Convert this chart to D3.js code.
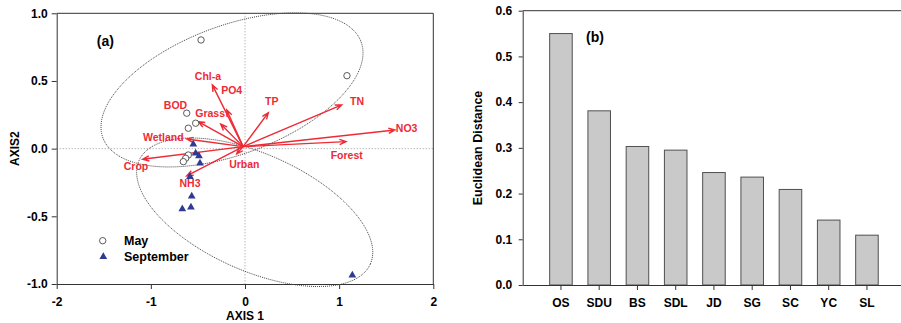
<!DOCTYPE html>
<html>
<head>
<meta charset="utf-8">
<script src="https://cdn.jsdelivr.net/npm/d3@7"></script>
<style>
  body { margin: 0; background: #fff; }
  svg { display: block; font-family: "Liberation Sans", Arial, sans-serif; }
  .axis text { font-size: 12px; font-weight: bold; fill: #000; }
  .axis path, .axis line { stroke: #333; }
</style>
</head>
<body>
<svg id="chart" width="901" height="323"></svg>
<script>
// panel (a): site scores
const mayX = [-0.467, 1.083, -0.619, -0.524, -0.602, -0.602, -0.630, -0.655];
const mayY = [0.803, 0.539, 0.262, 0.188, 0.151, -0.047, -0.071, -0.096];
const sepX = [-0.549, -0.524, -0.489, -0.478, -0.584, -0.566, -0.574, -0.666, 1.140];
const sepY = [0.033, -0.034, -0.054, -0.108, -0.207, -0.352, -0.433, -0.446, -0.935];

// environmental vectors (tips) and where their names sit
const vecNames = ["NO3", "TN", "Forest", "TP", "Chl-a", "PO4", "BOD", "Grass", "Wetland", "Crop", "NH3", "Urban"];
const vecX = [1.593, 1.027, 1.073, 0.248, -0.347, -0.194, -0.496, -0.258, -0.619, -1.087, -0.619, -0.088];
const vecY = [0.138, 0.323, 0.052, 0.266, 0.471, 0.286, 0.200, 0.182, 0.071, -0.078, -0.202, -0.039];
const labX = [1.717, 1.190, 1.080, 0.284, -0.393, -0.141, -0.738, -0.370, -0.868, -1.158, -0.584, -0.007];
const labY = [0.153, 0.352, -0.047, 0.352, 0.537, 0.434, 0.321, 0.262, 0.084, -0.133, -0.256, -0.113];
const vecOrigin = [-0.02, 0.015];

// group ellipses: centre + two conjugate semi-axes (data units)
const ellCx = [-0.138, 0.103];
const ellCy = [0.434, -0.470];
const ellUx = [1.371, 1.228];
const ellUy = [0.355, -0.383];
const ellVx = [0.238, -0.254];
const ellVy = [-0.445, -0.393];

const axis1Ticks = [-2, -1, 0, 1, 2];
const axis2Ticks = [-1, -0.5, 0, 0.5, 1];

// panel (b)
const sites = ["OS", "SDU", "BS", "SDL", "JD", "SG", "SC", "YC", "SL"];
const distance = [0.550, 0.381, 0.303, 0.295, 0.246, 0.236, 0.209, 0.142, 0.109];
const distTicks = [0, 0.1, 0.2, 0.3, 0.4, 0.5, 0.6];

const red = "#ee2a35";
const svg = d3.select("#chart");

// ---------- panel (a) ----------
const x = d3.scaleLinear().domain([-2, 2]).range([56.7, 433.3]);
const y = d3.scaleLinear().domain([-1, 1]).range([284, 13.3]);

const ga = svg.append("g");

// zero lines
ga.append("line")
  .attr("x1", x(0)).attr("x2", x(0)).attr("y1", y(1)).attr("y2", y(-1))
  .attr("stroke", "#999").attr("stroke-dasharray", "1,2");
ga.append("line")
  .attr("x1", x(-2)).attr("x2", x(2)).attr("y1", y(0)).attr("y2", y(0))
  .attr("stroke", "#999").attr("stroke-dasharray", "1,2");

// frame top/right
ga.append("path")
  .attr("d", `M${x(-2)},${y(1)}H${x(2)}V${y(-1)}`)
  .attr("fill", "none").attr("stroke", "#333");

ga.append("g").attr("class", "axis")
  .attr("transform", `translate(0,${y(-1)})`)
  .call(d3.axisBottom(x).tickValues(axis1Ticks).tickSize(5).tickSizeOuter(0).tickPadding(8).tickFormat(d => String(d)));

ga.append("g").attr("class", "axis")
  .attr("transform", `translate(${x(-2)},0)`)
  .call(d3.axisLeft(y).tickValues(axis2Ticks).tickSize(5).tickSizeOuter(0).tickPadding(4).tickFormat(d => d.toFixed(1)));

// ellipses
const ellLine = d3.line().x(p => x(p[0])).y(p => y(p[1])).curve(d3.curveLinearClosed);
ellCx.forEach((cx, i) => {
  const pts = d3.range(0, 360, 2).map(a => {
    const t = a * Math.PI / 180;
    return [cx + ellUx[i] * Math.cos(t) + ellVx[i] * Math.sin(t),
            ellCy[i] + ellUy[i] * Math.cos(t) + ellVy[i] * Math.sin(t)];
  });
  ga.append("path").attr("d", ellLine(pts))
    .attr("fill", "none").attr("stroke", "#444").attr("stroke-width", 1)
    .attr("stroke-dasharray", "1,1");
});

// vectors
const ox = x(vecOrigin[0]), oy = y(vecOrigin[1]);
vecNames.forEach((name, i) => {
  const tx = x(vecX[i]), ty = y(vecY[i]);
  const ang = Math.atan2(ty - oy, tx - ox);
  const hl = 7, ha = 0.38;
  const p1 = [tx - hl * Math.cos(ang - ha), ty - hl * Math.sin(ang - ha)];
  const p2 = [tx - hl * Math.cos(ang + ha), ty - hl * Math.sin(ang + ha)];
  ga.append("path")
    .attr("d", `M${ox},${oy}L${tx},${ty}M${p1}L${tx},${ty}L${p2}`)
    .attr("fill", "none").attr("stroke", red).attr("stroke-width", 1.4);
  ga.append("text")
    .attr("x", x(labX[i])).attr("y", y(labY[i])).attr("dy", "0.35em")
    .attr("text-anchor", "middle")
    .attr("font-size", 10.5).attr("font-weight", "bold").attr("fill", red)
    .text(name);
});

// points
ga.selectAll("circle.may").data(mayX).enter().append("circle")
  .attr("cx", d => x(d)).attr("cy", (d, i) => y(mayY[i])).attr("r", 3.2)
  .attr("fill", "#fff").attr("stroke", "#333").attr("stroke-width", 0.8);

const tri = d3.symbol(d3.symbolTriangle, 26);
ga.selectAll("path.sep").data(sepX).enter().append("path")
  .attr("d", tri)
  .attr("transform", (d, i) => `translate(${x(d)},${y(sepY[i])})`)
  .attr("fill", "#2e3a94");

// legend
ga.append("circle").attr("cx", 102.7).attr("cy", 240.7).attr("r", 3.2)
  .attr("fill", "#fff").attr("stroke", "#333").attr("stroke-width", 0.8);
ga.append("path").attr("d", tri).attr("transform", "translate(103.3,256.7)").attr("fill", "#2e3a94");
ga.append("text").attr("x", 124).attr("y", 240.7).attr("dy", "0.35em")
  .attr("font-size", 12.5).attr("font-weight", "bold").text("May");
ga.append("text").attr("x", 124).attr("y", 256.7).attr("dy", "0.35em")
  .attr("font-size", 12.5).attr("font-weight", "bold").text("September");

ga.append("text").attr("x", 105.3).attr("y", 40.7).attr("dy", "0.35em")
  .attr("text-anchor", "middle").attr("font-size", 14).attr("font-weight", "bold").text("(a)");
ga.append("text").attr("x", x(0)).attr("y", 316).attr("dy", "0.35em")
  .attr("text-anchor", "middle").attr("font-size", 12).attr("font-weight", "bold").text("AXIS 1");
ga.append("text").attr("transform", `translate(15,${y(0)}) rotate(-90)`).attr("dy", "0.35em")
  .attr("text-anchor", "middle").attr("font-size", 12).attr("font-weight", "bold").text("AXIS2");

// ---------- panel (b) ----------
const xb = d3.scaleBand().domain(sites).range([522.7, 905.2]).paddingInner(0.41).paddingOuter(0.705);
const yb = d3.scaleLinear().domain([0, 0.6]).range([285, 10.7]);

const gb = svg.append("g");

gb.append("line")
  .attr("x1", 522.7).attr("x2", 905.2).attr("y1", yb(0.6)).attr("y2", yb(0.6))
  .attr("stroke", "#333");

gb.selectAll("rect.bar").data(distance).enter().append("rect")
  .attr("x", (d, i) => xb(sites[i]))
  .attr("y", d => yb(d))
  .attr("width", xb.bandwidth())
  .attr("height", d => yb(0) - yb(d))
  .attr("fill", "#c9c9c9").attr("stroke", "#505050").attr("stroke-width", 1);

gb.append("g").attr("class", "axis")
  .attr("transform", `translate(0,${yb(0)})`)
  .call(d3.axisBottom(xb).tickSize(5).tickSizeOuter(0).tickPadding(8));

gb.append("g").attr("class", "axis")
  .attr("transform", "translate(522.7,0)")
  .call(d3.axisLeft(yb).tickValues(distTicks).tickSize(4).tickSizeOuter(0).tickPadding(6.5).tickFormat(d => d.toFixed(1)));

gb.append("text").attr("x", 595).attr("y", 36.7).attr("dy", "0.35em")
  .attr("text-anchor", "middle").attr("font-size", 14).attr("font-weight", "bold").text("(b)");
gb.append("text").attr("transform", "translate(478,148) rotate(-90)").attr("dy", "0.35em")
  .attr("text-anchor", "middle").attr("font-size", 12.5).attr("font-weight", "bold").text("Euclidean Distance");
</script>
</body>
</html>
